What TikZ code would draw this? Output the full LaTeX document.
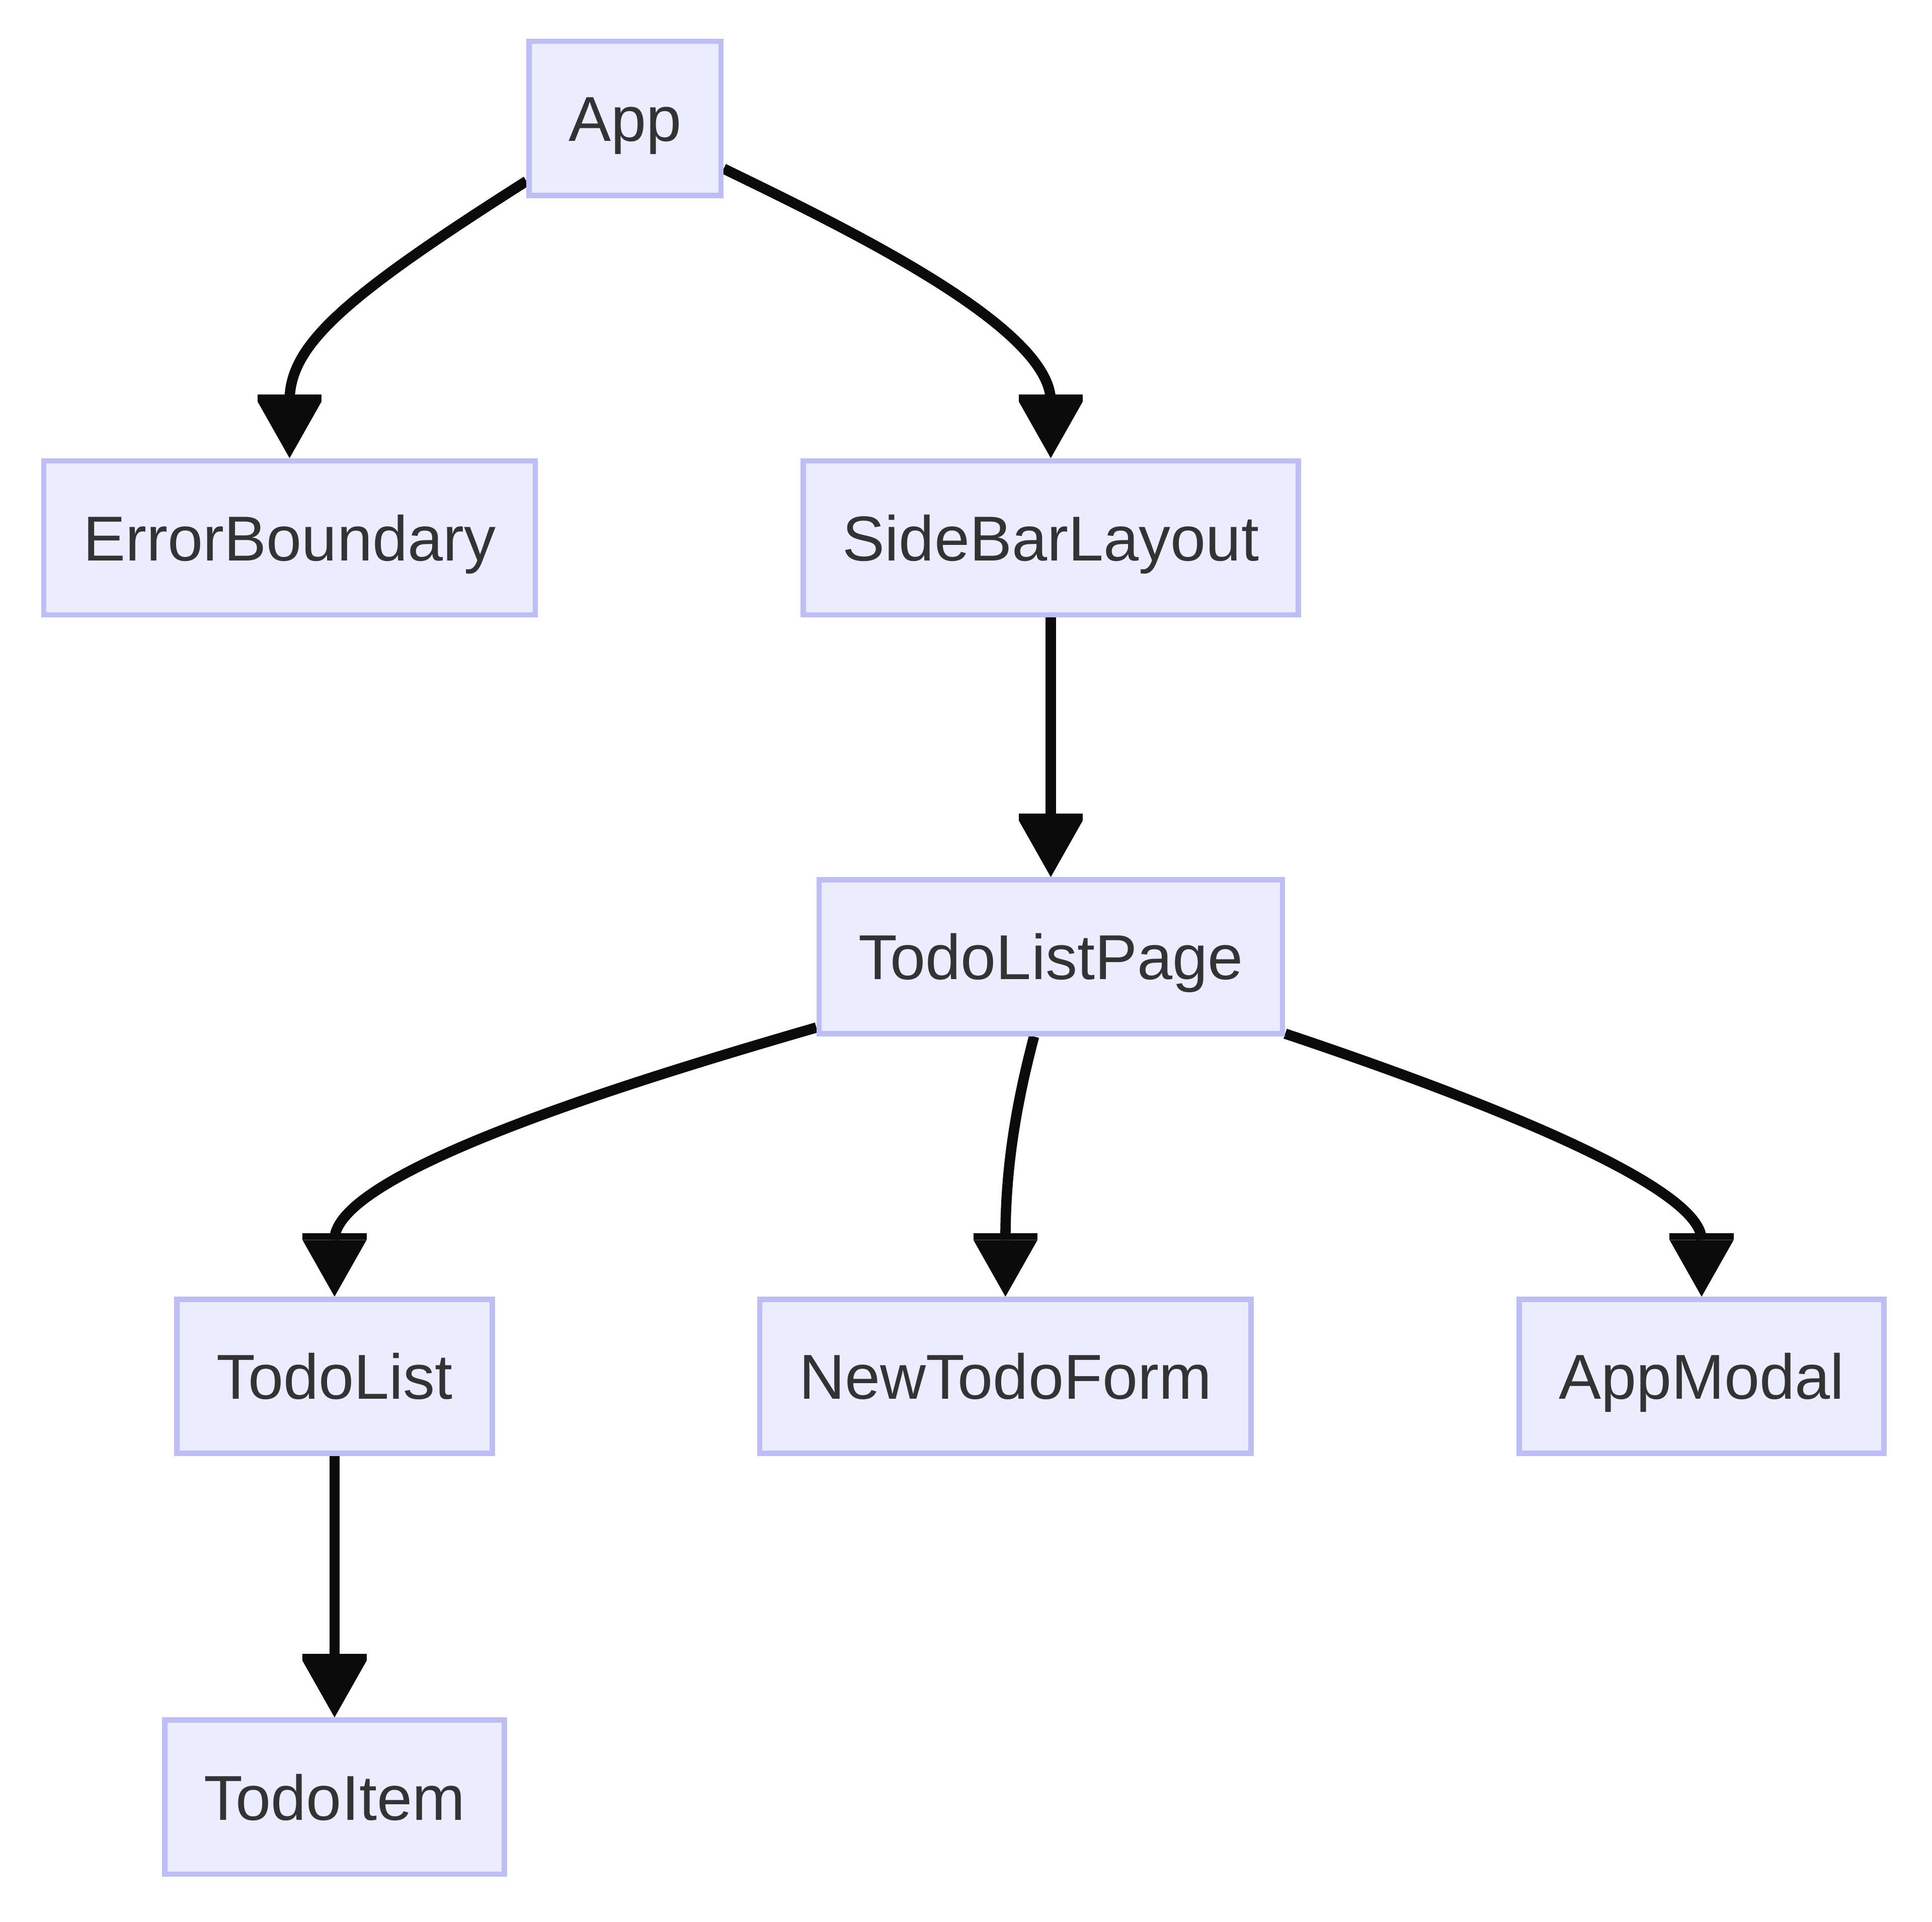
\documentclass[tikz,border=0pt]{standalone}
\usepackage{fontspec}
\setmainfont{Liberation Sans}
\usetikzlibrary{arrows.meta,backgrounds}
\definecolor{nodefill}{HTML}{ECECFF}
\definecolor{nodeline}{RGB}{189,189,248}
\definecolor{txtcol}{HTML}{333333}
\definecolor{edgecol}{HTML}{0B0B0B}
\tikzset{
  comp/.style={draw=nodeline, fill=nodefill, line width=4.4pt, rectangle,
    minimum height=125pt, inner xsep=32pt, inner ysep=0pt,
    text height=36.9pt, text depth=0pt, text=txtcol,
    font=\fontsize{51.5}{60}\selectfont},
  edge/.style={draw=edgecol, line width=8.4pt,
    -{Rectangle[width=52pt,length=5.5pt,sep=0pt,line width=0pt]Triangle[width=52pt,length=46pt,sep=0pt,line width=0pt]}},
}
\begin{document}
\begin{tikzpicture}[x=1pt,y=-1pt]
\useasboundingbox (0,0) rectangle (1568,1559.8);
\node[comp] (app) at (507.3,96) {App};
\node[comp] (eb) at (235,436.5) {ErrorBoundary};
\node[comp] (sbl) at (852.8,436.5) {SideBarLayout};
\node[comp] (tlp) at (852.8,776.5) {TodoListPage};
\node[comp] (tl) at (271.5,1117) {TodoList};
\node[comp] (ntf) at (816,1117) {NewTodoForm};
\node[comp] (am) at (1381,1117) {AppModal};
\node[comp] (ti) at (271.5,1458.5) {TodoItem};
\begin{scope}[on background layer]
\fill[white] (0,0) rectangle (1568,1559.8);
\draw[edge] ([yshift=13.7pt]app.south west) .. controls +(-150,95.25) and +(0,-91.4) .. (eb.north);
\draw[edge] ([yshift=23.8pt]app.south east) .. controls +(100,48.6) and +(0,-106.4) .. (sbl.north);
\draw[edge] (sbl.south) -- (tlp.north);
\draw[edge] ([yshift=7.3pt]tlp.south west) .. controls +(-150,43.5) and +(0,-101) .. (tl.north);
\draw[edge] ([xshift=-13.6pt]tlp.south) .. controls +(-15.8,60) and +(0,-101) .. (ntf.north);
\draw[edge] ([yshift=2.3pt]tlp.south east) .. controls +(150,50.25) and +(0,-91) .. (am.north);
\draw[edge] (tl.south) -- (ti.north);
\end{scope}
\end{tikzpicture}
\end{document}
